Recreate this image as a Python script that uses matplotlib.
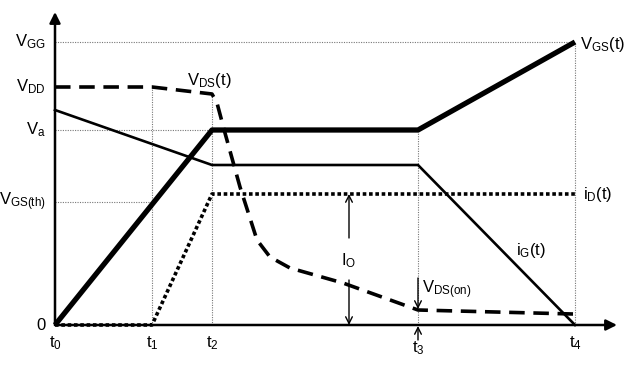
import matplotlib.pyplot as plt

plt.rcParams["font.family"] = ["Liberation Sans", "DejaVu Sans"]
plt.rcParams["mathtext.default"] = "regular"

# switching instants (arbitrary time units)
t_marks = [0, 97, 157, 363, 520]
t_labels = [r"$t_0$", r"$t_1$", r"$t_2$", r"$t_3$", r"$t_4$"]

# voltage / current levels (arbitrary units)
V_GG = 283
V_DD = 238
V_a = 195
V_th = 123
I_O = 131

# waveforms
vgs_t = [0, 157, 363, 520]
vgs_v = [0, 195, 195, 283]

ig_t = [0, 157, 363, 520]
ig_v = [215, 160, 160, 0]

id_t = [0, 97, 157, 520]
id_v = [0, 0, 131, 131]

vds_t = [0, 97, 157, 162, 170, 185, 202, 215, 235, 288, 363, 518]
vds_v = [238, 238, 231, 222, 192, 138, 85, 68, 57, 42, 15, 11]

level_labels = [r"$V_{GG}$", r"$V_{DD}$", r"$V_a$", r"$V_{GS(th)}$", "0"]
level_values = [V_GG, V_DD, V_a, V_th, 0]


def main():
    fig = plt.figure(figsize=(6.42, 3.8), dpi=100)
    ax = fig.add_axes([0, 0, 1, 1])
    ax.set_xlim(-55, 587)
    ax.set_ylim(-55, 325)
    ax.axis("off")

    grid = dict(color="#777777", lw=0.8, ls=(0, (1, 1.2)), zorder=1)
    # horizontal guides
    ax.plot([0, t_marks[4]], [V_GG, V_GG], **grid)
    ax.plot([0, t_marks[2]], [V_a, V_a], **grid)
    ax.plot([0, t_marks[1]], [V_th, V_th], **grid)
    # vertical guides
    ax.plot([t_marks[1]] * 2, [0, V_DD], **grid)
    ax.plot([t_marks[2]] * 2, [0, vds_v[2]], **grid)
    ax.plot([t_marks[3]] * 2, [0, V_a], **grid)
    ax.plot([t_marks[4]] * 2, [0, V_GG], **grid)

    # axes with arrows
    arrow_ax = dict(arrowstyle="-|>", lw=1.8, color="black",
                    mutation_scale=16, shrinkA=0, shrinkB=0)
    ax.annotate("", xy=(562, 0), xytext=(0, 0), arrowprops=arrow_ax, zorder=2)
    ax.annotate("", xy=(0, 313), xytext=(0, 0), arrowprops=arrow_ax, zorder=2)

    # waveforms
    ax.plot(ig_t, ig_v, color="black", lw=1.9, zorder=3)
    ax.plot(id_t, id_v, color="black", lw=2.6, ls=(0, (1, 0.75)),
            dash_capstyle="butt", zorder=3)
    ax.plot(vds_t, vds_v, color="black", lw=2.6, ls=(0, (4.3, 2.4)),
            dash_capstyle="butt", zorder=3)
    ax.plot(vgs_t, vgs_v, color="black", lw=3.8, solid_capstyle="butt",
            zorder=4)

    # I_O double arrow
    thin = dict(arrowstyle="->", lw=1.0, color="black",
                mutation_scale=12, shrinkA=0, shrinkB=0)
    ax.annotate("", xy=(294, I_O), xytext=(294, 87), arrowprops=thin)
    ax.annotate("", xy=(294, 0), xytext=(294, 45), arrowprops=thin)
    ax.text(294, 64, r"$I_O$", ha="center", va="center", fontsize=12)

    # V_DS(on) and t3 markers
    ax.annotate("", xy=(t_marks[3], 16), xytext=(t_marks[3], 47),
                arrowprops=thin)
    ax.annotate("", xy=(t_marks[3], -1), xytext=(t_marks[3], -15),
                arrowprops=thin)
    ax.text(367, 35, r"$V_{DS(on)}$", ha="left", va="center", fontsize=12)

    # curve labels
    ax.text(132, 245, r"$V_{DS}(t)$", ha="left", va="center", fontsize=12)
    ax.text(525, 281, r"$V_{GS}(t)$", ha="left", va="center", fontsize=12)
    ax.text(528, 130, r"$i_D(t)$", ha="left", va="center", fontsize=12)
    ax.text(461, 75, r"$i_G(t)$", ha="left", va="center", fontsize=12)

    # level labels on the y axis
    for lab, val in zip(level_labels, level_values):
        ax.text(-9, val, lab, ha="right", va="center", fontsize=12)

    # time labels
    for i, (tm, lab) in enumerate(zip(t_marks, t_labels)):
        y = -23 if i == 3 else -18
        ax.text(tm, y, lab, ha="center", va="center", fontsize=12)

    fig.savefig("out.png", dpi=100)
    plt.close(fig)


if __name__ == "__main__":
    main()
